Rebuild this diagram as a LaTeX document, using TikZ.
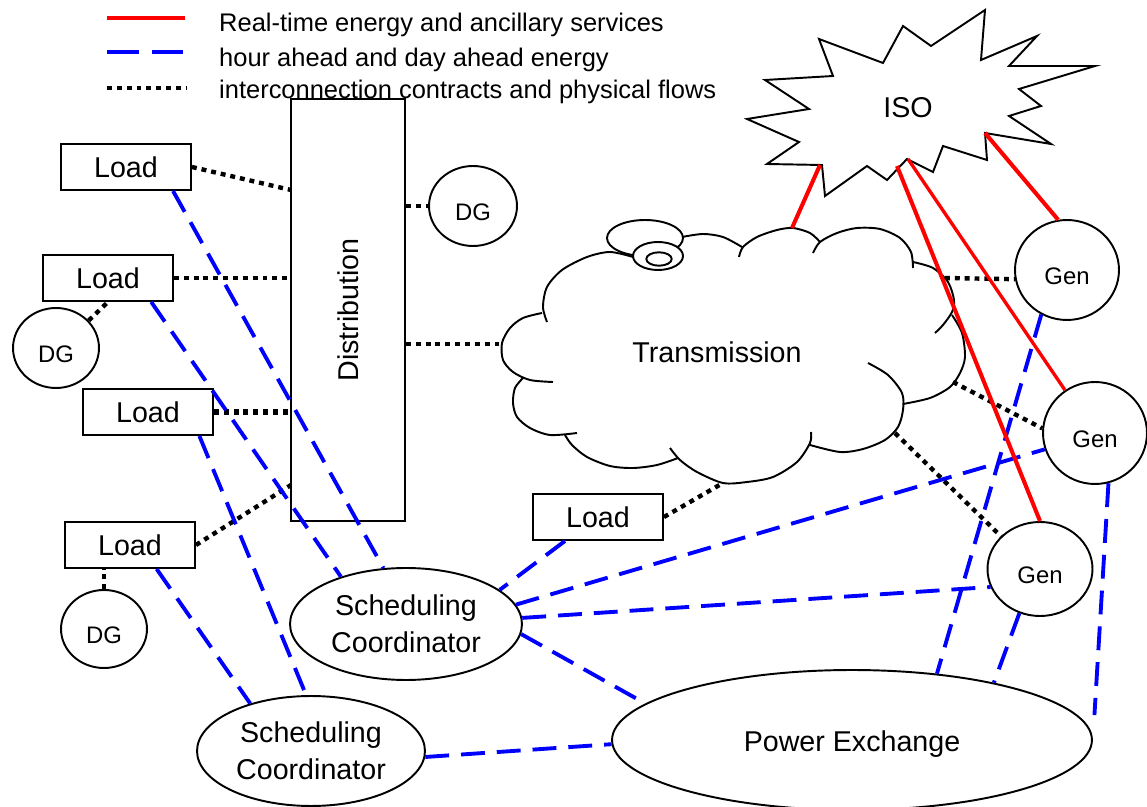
\documentclass[tikz,border=0pt]{standalone}
\usepackage{fontspec}
\usepackage{graphicx}
\setmainfont{Liberation Sans}
\usepackage{tikz}
\usetikzlibrary{shapes.geometric,positioning,calc}
\definecolor{rtRed}{RGB}{255,0,0}
\definecolor{aheadBlue}{RGB}{0,0,255}
\newcommand{\nodefont}{\fontsize{16.3}{21}\selectfont}
\newcommand{\genfont}{\fontsize{13.6}{16}\selectfont}
\newcommand{\keyfont}{\fontsize{14.5}{17}\selectfont}

\begin{document}
\begin{tikzpicture}[x=0.02cm,y=-0.02cm,
  loadbox/.style={rectangle,draw,line width=1.1pt,minimum width=2.6cm,
                  minimum height=0.92cm,inner sep=0pt,font=\nodefont},
  blob/.style 2 args={ellipse,draw,line width=1.1pt,minimum width=#1,
                      minimum height=#2,inner sep=0pt},
  small/.style={font=\genfont,text height=0.58cm,text depth=0pt},
  rtline/.style={draw=rtRed,line width=2.3pt},
  aheadline/.style={draw=aheadBlue,line width=2.2pt,dash pattern=on 13.6pt off 6.8pt},
  physline/.style={draw=black,line width=2.5pt,dash pattern=on 2.8pt off 2.8pt},
  outline/.style={line width=1.1pt,line join=round}
]
\useasboundingbox (0,0) rectangle (1147,807);

% Legend
\draw[rtline] (107,18) -- (185,18);
\draw[aheadline,dash pattern=on 18pt off 7.4pt] (107,52) -- (185,52);
\draw[physline] (107,88) -- (187,88);
\node[anchor=west,font=\keyfont] (keyrt) at (213,25) {Real-time energy and ancillary services};
\node[anchor=west,font=\keyfont] (keyahead) at (213,60) {hour ahead and day ahead energy};
\node[anchor=west,font=\keyfont] (keyphys) at (213,92) {interconnection contracts and physical flows};

% Distribution
\node[draw,line width=1.1pt,minimum width=2.28cm,minimum height=8.44cm,
      inner sep=0pt,font=\nodefont] (dist) at (348,310) {\rotatebox{90}{Distribution}};
\coordinate (distA) at (291,190);
\coordinate (distB) at (291,485);

% Loads
\node[loadbox] (load1) at (126,167) {Load};
\node[loadbox] (load2) at (108,278) {Load};
\node[loadbox] (load3) at (148,412) {Load};
\node[loadbox] (load4) at (130,545) {Load};
\node[loadbox] (load5) at (598,517) {Load};

% DGs
\node[blob={1.72cm}{1.6cm},small] (dg1) at (56,348) {DG};
\node[blob={1.72cm}{1.56cm},small] (dg2) at (104,629) {DG};
\node[blob={1.76cm}{1.6cm},small] (dg3) at (473,206) {DG};

% Generators
\node[blob={2.08cm}{2.0cm},small] (gen1) at (1067,270) {Gen};
\node[blob={2.08cm}{2.04cm},small] (gen2) at (1095,433) {Gen};
\node[blob={2.1cm}{1.88cm},small] (gen3) at (1040,569) {Gen};

% Scheduling coordinators and PX
\node[blob={4.64cm}{2.24cm},font=\nodefont,align=center] (sc1) at (406,624) {Scheduling\\Coordinator};
\node[blob={4.56cm}{2.2cm},font=\nodefont,align=center] (sc2) at (311,751) {Scheduling\\Coordinator};
\node[blob={9.6cm}{2.8cm},font=\nodefont,text height=0.6cm,text depth=0.12cm] (px) at (852,740) {Power Exchange};

% Transmission cloud
\draw[outline] plot[smooth] coordinates {(547,322) (543,307) (547,287) (562,270) (587,257) (610,252) (633,257)};
\draw[outline] plot[smooth] coordinates {(682,237) (703,234) (723,237) (742,247)};
\draw[outline] plot[smooth] coordinates {(739,257) (743,247) (757,237) (777,230) (793,228) (810,233) (820,242)};
\draw[outline] plot[smooth] coordinates {(813,253) (820,242) (837,233) (857,228) (880,229) (900,238) (911,252) (913,268)};
\draw[outline] plot[smooth] coordinates {(913,262) (933,268) (948,282) (954,300) (952,312) (943,325) (935,333)};
\draw[outline] plot[smooth] coordinates {(952,315) (962,333) (965,357) (960,373) (950,387) (930,398) (903,404)};
\draw[outline] plot[smooth] coordinates {(868,363) (888,375) (902,393) (903,410) (898,427) (885,440) (863,449) (840,452) (810,445)};
\draw[outline] plot[smooth] coordinates {(811,432) (810,443) (797,462) (773,477) (747,482) (723,483) (697,472) (680,460) (670,448)};
\draw[outline] plot[smooth] coordinates {(678,458) (657,465) (633,468) (610,466) (587,457) (572,445) (565,435)};
\draw[outline] plot[smooth] coordinates {(523,378) (515,388) (513,403) (517,417) (530,428) (550,435) (577,433)};
\draw[outline] plot[smooth] coordinates {(542,313) (523,318) (510,328) (502,343) (503,360) (513,372) (530,380) (553,382)};
\draw[outline,fill=white] (645,238) ellipse [x radius=0.76cm,y radius=0.36cm];
\draw[outline,fill=white] (658,256) ellipse [x radius=0.5cm,y radius=0.28cm];
\draw[outline] (659,259) ellipse [x radius=0.254cm,y radius=0.134cm];
\node[font=\nodefont] (trans) at (717,352) {Transmission};
\coordinate (cloudTop) at (792,228);
\coordinate (cloudWest) at (502,344);
\coordinate (cloudSouth) at (723,483);
\coordinate (cloudEastA) at (945,278);
\coordinate (cloudEastB) at (953,382);
\coordinate (cloudEastC) at (895,433);

% ISO star
\draw[outline,line join=miter] (747,119) -- (809,109) -- (765,80) -- (833,76) -- (819,39)
  -- (883,63) -- (903,26) -- (931,46) -- (985,10) -- (981,60) -- (1037,36) -- (1009,66)
  -- (1095,66) -- (1019,89) -- (1041,106) -- (1009,116) -- (1051,144) -- (985,133)
  -- (987,160) -- (943,146) -- (933,172) -- (907,159) -- (887,180) -- (867,166)
  -- (825,196) -- (822,165) -- (767,164) -- (799,142) -- cycle;
\node[font=\nodefont] (iso) at (908,108) {ISO};
\coordinate (isoA) at (820,165);
\coordinate (isoB) at (897,166);
\coordinate (isoC) at (908,159);
\coordinate (isoD) at (985,133);

% Physical flows
\draw[physline] (load1.east) -- (distA);
\draw[physline] (load2.east) -- (load2.east -| dist.west);
\draw[physline] (dg1.40) -- (load2.south);
\draw[physline,line width=3.2pt] (load3.east) -- (load3.east -| dist.west);
\draw[physline] (load4.east) -- (distB);
\draw[physline] (dg2.north) -- (dg2.north |- load4.south);
\draw[physline] (dist.east |- dg3.west) -- (dg3.west);
\draw[physline] (dist.east |- cloudWest) -- (cloudWest);
\draw[physline] (load5.east) -- (cloudSouth);
\draw[physline] (cloudEastA) -- (gen1.190);
\draw[physline] (cloudEastB) -- (gen2.175);
\draw[physline] (cloudEastC) -- (gen3.140);

% Hour ahead / day ahead
\draw[aheadline] (load1.-27) -- (sc1.112);
\draw[aheadline] (load2.-29) -- (sc1.144);
\draw[aheadline] (load3.-25) -- (sc2.95);
\draw[aheadline] (load4.-42) -- (sc2.142);
\draw[aheadline] (load5.-144) -- (sc1.20);
\draw[aheadline] (sc1.10) -- (gen2.198);
\draw[aheadline] (sc1.3) -- (gen3.200);
\draw[aheadline] (sc1.-5) -- (px.170);
\draw[aheadline] (sc2.-3) -- (px.181);
\draw[aheadline] (gen1.240) -- (px.38);
\draw[aheadline] (gen3.245) -- (px.22);
\draw[aheadline,shorten >=0.5cm] (gen2.285) -- (px.east);

% Real-time
\draw[rtline] (isoA) -- (cloudTop);
\draw[rtline] (isoB) -- (gen3.north);
\draw[rtline,line width=1.9pt] (isoC) -- (gen2.125);
\draw[rtline] (isoD) -- (gen1.100);
\end{tikzpicture}
\end{document}
